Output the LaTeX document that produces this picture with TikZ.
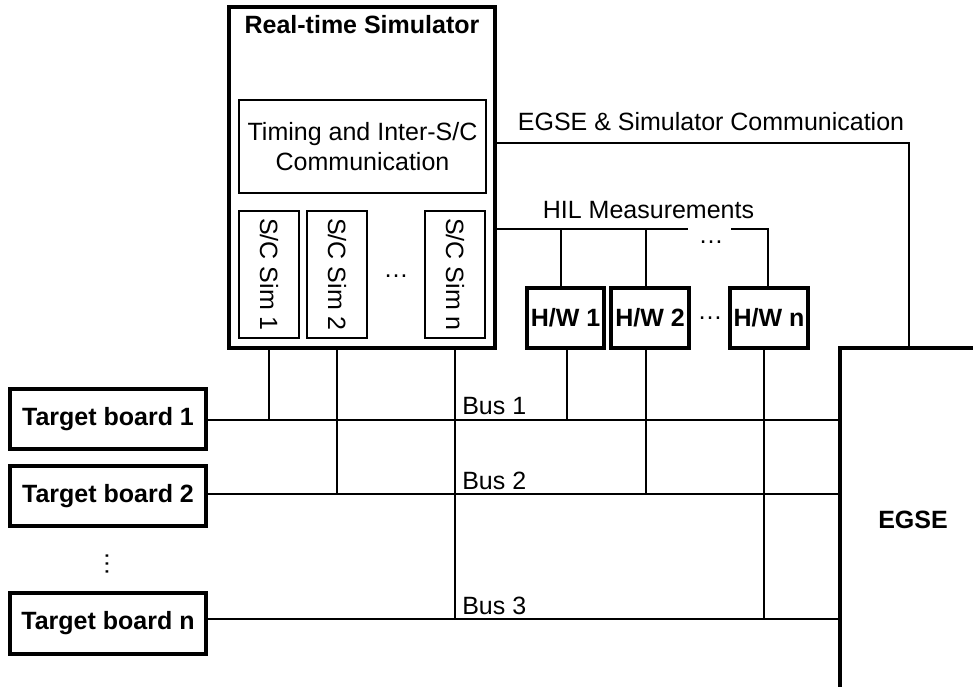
\documentclass[tikz,border=0pt]{standalone}
\usepackage{fontspec}
\setmainfont{Liberation Sans}
\begin{document}
\begin{tikzpicture}[x=0.75pt,y=-0.75pt,
  every node/.style={font=\fontsize{18.75}{23}\selectfont, inner sep=0pt},
  thin line/.style={line width=1pt, draw=black},
  thickbox/.style={draw=black, line width=2.3pt, rectangle, font=\fontsize{18.75}{23}\selectfont\bfseries},
  thinbox/.style={draw=black, line width=1pt, rectangle},
  lbl/.style={anchor=base},
  bold/.style={font=\fontsize{18.75}{23}\selectfont\bfseries}
]
\useasboundingbox (0,0) rectangle (973,686);
\clip (0,0) rectangle (973,686);

% Real-time simulator
\node[thickbox, minimum width=199.5pt, minimum height=255.75pt] (rts) at (362,177.5) {};
\node[bold, anchor=base] (title) at (362,33) {Real-time Simulator};
\node[thinbox, minimum width=185.25pt, minimum height=69.75pt, align=center] (timing) at (362.5,146.5) {Timing and Inter-S/C\\Communication};
\node[thinbox, minimum width=45pt, minimum height=95.25pt] (sim1) at (269,274.5) {};
\node[thinbox, minimum width=45pt, minimum height=95.25pt] (sim2) at (337,274.5) {};
\node[thinbox, minimum width=45pt, minimum height=95.25pt] (simn) at (455,274.5) {};
\node[rotate=-90] (sim1t) at (sim1) {S/C Sim 1};
\node[rotate=-90] (sim2t) at (sim2) {S/C Sim 2};
\node[rotate=-90] (simnt) at (simn) {S/C Sim n};
\node (simdots) at (396,276) {…};

% H/W boxes
\node[thickbox, minimum width=57.75pt, minimum height=45pt] (hw1) at (565.5,318) {H/W 1};
\node[thickbox, minimum width=58.5pt, minimum height=45pt] (hw2) at (650,318) {H/W 2};
\node[thickbox, minimum width=58.5pt, minimum height=45pt] (hwn) at (769,318) {H/W n};
\node (hwdots) at (710,318) {…};

% Target boards
\node[thickbox, minimum width=147pt, minimum height=45pt] (tb1) at (108,419) {Target board 1};
\node[thickbox, minimum width=147pt, minimum height=45pt] (tb2) at (108,496) {Target board 2};
\node[thickbox, minimum width=147pt, minimum height=45.75pt] (tbn) at (108,623.5) {Target board n};
\node[rotate=90] (tbdots) at (107,564) {…};

% EGSE
\node[thickbox, minimum width=109.5pt, minimum height=258pt] (egse) at (913,520) {EGSE};

% coordinates
\coordinate (cc) at (909,143);
\coordinate (hg1) at (688,229);
\coordinate (hg2) at (731,229);
\coordinate (hl) at (768,229);
\coordinate (h1t) at (561,229);
\coordinate (h2t) at (646,229);
\coordinate (b1) at (840,420);
\coordinate (b2) at (840,494);
\coordinate (b3) at (840,619);
\coordinate (h1b) at (567,420);
\coordinate (h2b) at (646,494);
\coordinate (hnb) at (764,619);

% EGSE & simulator communication
\draw[thin line] (rts.east |- cc) -- (cc) -- (cc |- egse.north);
\node[lbl] (commlbl) at (711,130) {EGSE \& Simulator Communication};

% HIL
\draw[thin line] (rts.east |- hl) -- (hg1);
\draw[thin line] (hg2) -- (hl) -- (hl |- hwn.north);
\draw[thin line] (h1t) -- (h1t |- hw1.north);
\draw[thin line] (h2t) -- (h2t |- hw2.north);
\node[lbl] (hillbl) at (648.5,218) {HIL Measurements};
\node (hildots) at (711,242) {…};

% buses
\draw[thin line] (tb1.east |- b1) -- (b1);
\draw[thin line] (tb2.east |- b2) -- (b2);
\draw[thin line] (tbn.east |- b3) -- (b3);
\node[anchor=base west] (bus1) at (462,414) {Bus 1};
\node[anchor=base west] (bus2) at (462,489) {Bus 2};
\node[anchor=base west] (bus3) at (462,614) {Bus 3};

% simulator to buses
\draw[thin line] (sim1 |- rts.south) -- (sim1 |- b1);
\draw[thin line] (sim2 |- rts.south) -- (sim2 |- b2);
\draw[thin line] (simn |- rts.south) -- (simn |- b3);

% H/W to buses
\draw[thin line] (h1b |- hw1.south) -- (h1b);
\draw[thin line] (h2b |- hw2.south) -- (h2b);
\draw[thin line] (hnb |- hwn.south) -- (hnb);
\end{tikzpicture}
\end{document}
